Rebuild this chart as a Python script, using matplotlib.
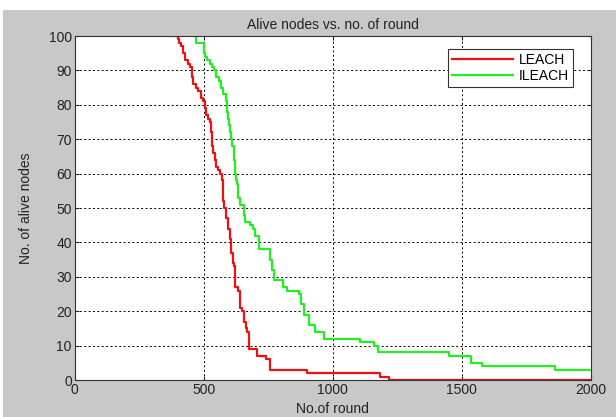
import matplotlib
matplotlib.use("Agg")
import matplotlib.pyplot as plt
from matplotlib.patches import Rectangle

# LEACH: round at which alive-node count changes, and the new count
leach_rounds = [393, 400, 404, 414, 420, 427, 440, 448, 455, 460, 470, 480, 490, 498, 503, 506,
                510, 516, 525, 530, 533, 538, 545, 550, 556, 563, 571, 574, 580, 586, 594,
                601, 608, 614, 617, 621, 630, 635, 643, 650, 658, 663, 667, 675, 708, 743,
                758, 899, 1182, 1220, 2000]
leach_alive = [100, 99, 98, 97, 95, 93, 92, 91, 88, 86, 85, 84, 82, 81, 81, 79,
               77, 76, 75, 72, 68, 66, 64, 62, 61, 60, 58, 52, 50, 47, 44,
               41, 37, 34, 33, 27, 27, 26, 21, 20, 17, 15, 14, 9, 7, 6,
               3, 2, 1, 0, 0]

# ILEACH
ileach_rounds = [461, 469, 503, 506, 515, 525, 533, 541, 550, 560, 568, 576, 586, 590, 594, 598,
                 601, 606, 612, 616, 620, 625, 629, 635, 640, 655, 662, 678, 690, 701, 716,
                 758, 765, 772, 807, 822, 868, 878, 890, 910, 930, 965, 1108, 1160,
                 1175, 1451, 1535, 1580, 1862, 2000]
ileach_alive = [100, 98, 95, 94, 93, 92, 91, 90, 88, 87, 85, 83, 81, 78, 76, 74,
                72, 70, 68, 64, 60, 58, 57, 53, 51, 48, 46, 45, 44, 42, 38,
                35, 32, 29, 27, 26, 25, 22, 19, 16, 14, 12, 11, 10,
                8, 7, 5, 4, 3, 3]

xticks = [0, 500, 1000, 1500, 2000]
yticks = list(range(0, 101, 10))

plt.rcParams['font.family'] = ['Liberation Sans', 'DejaVu Sans']
plt.rcParams['font.size'] = 10

fig = plt.figure(figsize=(6.16, 4.17), dpi=100, facecolor='white')
# matlab style grey figure background
fig.patches.append(Rectangle((3 / 616, 0), 1, 407 / 417, transform=fig.transFigure,
                             facecolor='#c8c8c8', edgecolor='none', zorder=-10))

ax = fig.add_axes([74.6 / 616, 1 - 380 / 417, 516 / 616, 344 / 417])
ax.set_facecolor('white')

ax.plot(leach_rounds, leach_alive, drawstyle='steps-post', color='#ee1111',
        linewidth=1.6, label='LEACH')
ax.plot(ileach_rounds, ileach_alive, drawstyle='steps-post', color='#22ee22',
        linewidth=1.6, label='ILEACH')

ax.set_xlim(0, 2000)
ax.set_ylim(0, 100)
ax.set_xticks(xticks)
ax.set_yticks(yticks)
ax.tick_params(direction='in', length=3, top=True, right=True, colors='#222222',
               labelsize=10, pad=2)
ax.grid(True, color='black', linestyle=(0, (2, 2.5)), linewidth=0.7)
for sp in ax.spines.values():
    sp.set_color('#333333')
    sp.set_linewidth(0.8)

ax.set_title('Alive nodes vs. no. of round', fontsize=10, pad=5, color='#222222')
ax.set_xlabel('No.of round', fontsize=10, labelpad=4, color='#222222')
ax.set_ylabel('No. of alive nodes', fontsize=10, labelpad=11, color='#222222')

leg = ax.legend(loc='upper right', bbox_to_anchor=(0.966, 0.962), fancybox=False,
                edgecolor='#333333', framealpha=1, handlelength=4.4, fontsize=10,
                borderaxespad=0, labelspacing=0.15, handletextpad=0.4, borderpad=0.3)
leg.get_frame().set_linewidth(0.8)

fig.savefig('out.png', dpi=100, facecolor=fig.get_facecolor())
